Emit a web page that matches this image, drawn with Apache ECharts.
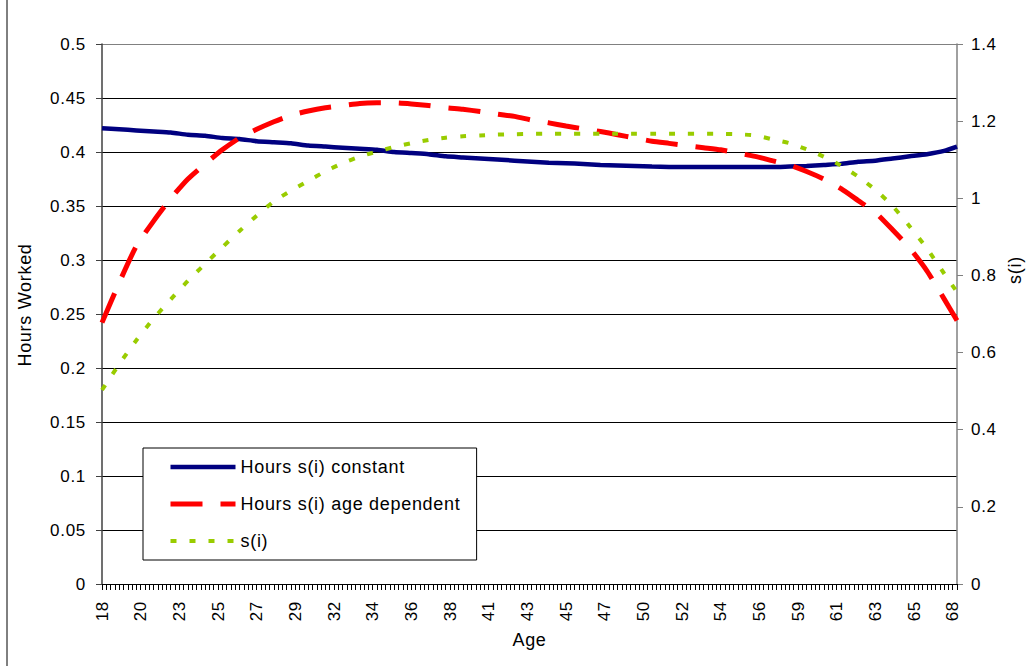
<!DOCTYPE html>
<html>
<head>
<meta charset="utf-8">
<script src="https://cdn.jsdelivr.net/npm/echarts@6/dist/echarts.min.js"></script>
<style>
html,body{margin:0;padding:0;background:#fff;}
#chart{width:1032px;height:666px;}
#chart text{letter-spacing:0.7px;}
</style>
</head>
<body>
<div id="chart"></div>
<script>
// Age tick labels shown every 9th quarter on the category axis
const ageTickLabels = ['18','20','23','25','27','29','32','34','36','38','41','43','45','47','50','52','54','56','59','61','63','65','68'];
const quarterCount = 200;     // quarterly categories from age 18 to 67.75
const labelEvery = 9;

// Ages at which values were read (years)
const sampleAges = [18,19,20,21,22,23,24,25,26,27,28,29,30,31,32,33,34,35,36,37,38,39,40,41,42,43,44,45,46,47,48,49,50,51,52,53,54,55,56,57,58,59,60,61,62,63,64,65,66,67,67.75];

const hoursConstant = [0.422,0.421,0.420,0.419,0.418,0.416,0.415,0.413,0.412,0.410,0.409,0.408,0.406,0.405,0.404,0.403,0.402,0.400,0.399,0.398,0.396,0.395,0.394,0.393,0.392,0.391,0.390,0.3895,0.389,0.388,0.3875,0.387,0.3865,0.3862,0.386,0.386,0.386,0.386,0.386,0.386,0.3865,0.387,0.388,0.389,0.391,0.392,0.394,0.396,0.398,0.401,0.405];

const hoursAgeDependent = [0.242,0.279,0.313,0.336,0.357,0.375,0.389,0.402,0.413,0.421,0.428,0.434,0.438,0.441,0.443,0.445,0.4455,0.4455,0.4445,0.443,0.441,0.4395,0.4375,0.435,0.433,0.4295,0.427,0.424,0.4215,0.419,0.416,0.413,0.410,0.408,0.406,0.404,0.402,0.399,0.396,0.392,0.388,0.382,0.375,0.366,0.355,0.344,0.328,0.311,0.290,0.264,0.244];

const sValues = [0.503,0.570,0.632,0.688,0.738,0.786,0.830,0.873,0.915,0.955,0.992,1.020,1.045,1.070,1.091,1.108,1.121,1.133,1.143,1.151,1.157,1.161,1.163,1.165,1.166,1.167,1.167,1.167,1.167,1.167,1.167,1.167,1.167,1.167,1.167,1.167,1.167,1.166,1.163,1.153,1.143,1.127,1.108,1.085,1.056,1.022,0.980,0.927,0.870,0.805,0.757];

const seriesNames = ['Hours s(i) constant','Hours s(i) age dependent','s(i)'];
const seriesColors = ['#000080','#FF0000','#99CC00'];
const seriesWidths = [4.5, 5, 4];
const seriesDash = ['solid', [32, 18], [6, 13]];

const categories = [];
for (let i = 0; i < quarterCount; i++) {
  categories.push(i % labelEvery === 0 ? (ageTickLabels[i / labelEvery] || '') : '');
}
function pairs(vals) {
  return sampleAges.map((a, k) => [Math.round((a - 18) * 4), vals[k]]);
}

const font = 'Liberation Sans, Arial, sans-serif';
const splitColors = ['#000','#000','#000','#000','#000','#000','#000','#000','#000','#000','#808080'];

const chart = echarts.init(document.getElementById('chart'), null, { renderer: 'svg' });
chart.setOption({
  animation: false,
  backgroundColor: '#fff',
  textStyle: { fontFamily: font },
  graphic: [{
    type: 'rect', z: -10,
    shape: { x: 7, y: -5, width: 1040, height: 690 },
    style: { fill: 'none', stroke: '#000', lineWidth: 1 }
  }],
  grid: { left: 102, right: 72, top: 44, bottom: 82, containLabel: false },
  legend: {
    orient: 'vertical',
    left: 143, top: 448,
    padding: [10, 33, 10, 25],
    itemWidth: 65, itemHeight: 12,
    itemGap: 19,
    backgroundColor: '#fff',
    borderColor: '#000', borderWidth: 1,
    itemStyle: { opacity: 0 },
    textStyle: { fontFamily: font, fontSize: 18, color: '#000' },
    data: seriesNames.map((n, k) => ({
      name: n,
      lineStyle: { width: seriesWidths[k], type: seriesDash[k], color: seriesColors[k] }
    }))
  },
  xAxis: {
    type: 'category',
    data: categories,
    boundaryGap: false,
    name: 'Age',
    nameLocation: 'middle',
    nameGap: 47,
    nameTextStyle: { fontSize: 18, color: '#000', fontFamily: font },
    axisLine: { lineStyle: { color: '#000', width: 1 } },
    axisTick: { show: true, interval: 0, length: 6, lineStyle: { color: '#000' } },
    axisLabel: { interval: 0, rotate: 90, fontSize: 17, color: '#000', margin: 17, fontFamily: font },
    splitLine: { show: false }
  },
  yAxis: [{
    type: 'value',
    min: 0, max: 0.5, interval: 0.05,
    name: 'Hours Worked',
    nameLocation: 'middle',
    nameRotate: 90,
    nameGap: 68,
    nameTextStyle: { fontSize: 18, color: '#000', fontFamily: font, padding: [0, 0, 0, 18] },
    axisLine: { show: true, lineStyle: { color: '#404040', width: 1.5 } },
    axisTick: { show: true, length: 6, lineStyle: { color: '#404040' } },
    axisLabel: { fontSize: 17, color: '#000', margin: 16, fontFamily: font,
      formatter: v => String(parseFloat(v.toFixed(2))) },
    splitLine: { show: true, lineStyle: { color: splitColors, width: 1 } }
  }, {
    type: 'value',
    min: 0, max: 1.4, interval: 0.2,
    position: 'right',
    name: 's(i)',
    nameLocation: 'middle',
    nameRotate: 90,
    nameGap: 49,
    nameTextStyle: { fontSize: 18, color: '#000', fontFamily: font, padding: [0, 0, 0, 88] },
    axisLine: { show: true, lineStyle: { color: '#808080', width: 1.5 } },
    axisTick: { show: true, length: 6, lineStyle: { color: '#808080' } },
    axisLabel: { fontSize: 17, color: '#000', margin: 14, fontFamily: font,
      formatter: v => String(parseFloat(v.toFixed(1))) },
    splitLine: { show: false }
  }],
  series: [{
    name: seriesNames[0],
    type: 'line',
    yAxisIndex: 0,
    data: pairs(hoursConstant),
    showSymbol: false, symbol: 'none',
    smooth: 0.2,
    lineStyle: { color: seriesColors[0], width: seriesWidths[0], type: seriesDash[0] },
    itemStyle: { color: seriesColors[0] },
    z: 3
  }, {
    name: seriesNames[1],
    type: 'line',
    yAxisIndex: 0,
    data: pairs(hoursAgeDependent),
    showSymbol: false, symbol: 'none',
    smooth: 0.2,
    lineStyle: { color: seriesColors[1], width: seriesWidths[1], type: seriesDash[1] },
    itemStyle: { color: seriesColors[1] },
    z: 4
  }, {
    name: seriesNames[2],
    type: 'line',
    yAxisIndex: 1,
    data: pairs(sValues),
    showSymbol: false, symbol: 'none',
    smooth: 0.2,
    lineStyle: { color: seriesColors[2], width: seriesWidths[2], type: seriesDash[2] },
    itemStyle: { color: seriesColors[2] },
    z: 5
  }]
});
</script>
</body>
</html>
